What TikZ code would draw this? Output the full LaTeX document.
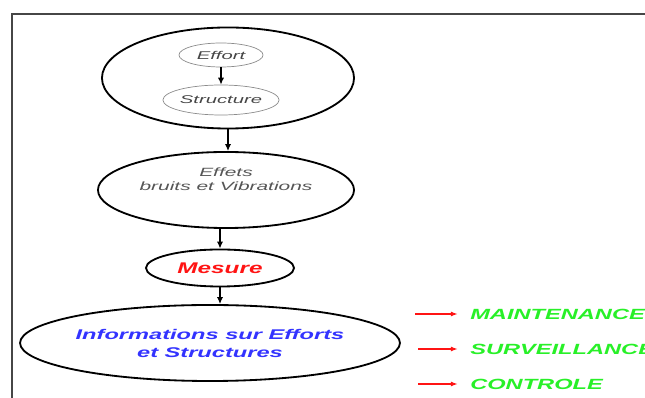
\documentclass[tikz,border=0pt]{standalone}
\usepackage{fontspec}
\setmainfont{Liberation Sans}
\usetikzlibrary{arrows.meta,positioning,shapes.geometric}
\definecolor{fsGrey} {RGB}{ 70, 70, 70}
\definecolor{fsText} {RGB}{ 85, 85, 85}
\definecolor{fsRed}  {RGB}{255, 20, 20}
\definecolor{fsBlue} {RGB}{ 51, 51,255}
\definecolor{fsGreen}{RGB}{ 40,240, 40}
% the lettering of the figure is stretched sideways
\newcommand{\wide}[2][1.6]{\scalebox{#1}[1]{#2}}

\begin{document}
\begin{tikzpicture}[
  x=0.025cm,y=-0.025cm,
  border/.style={draw=fsGrey,line width=1pt},
  bubble/.style={ellipse,draw=black,line width=1.3pt,inner sep=0pt},
  subbubble/.style={ellipse,draw=black!45,line width=0.5pt,inner sep=0pt,
                    font=\fontsize{8}{9}\selectfont\itshape,text=fsGrey},
  flow/.style={-{Latex[length=5pt,width=4.5pt]},line width=0.9pt},
  outarrow/.style={-{Latex[length=5pt,width=3.5pt]},draw=fsRed,
                   line width=1pt,shorten >=0.3cm},
  goal/.style={anchor=west,inner sep=0pt,text=fsGreen,
               font=\fontsize{10.5}{12}\selectfont\bfseries\itshape}
]
\useasboundingbox (0,0) rectangle (645,398);
\draw[border] (12,398) -- (12,14) -- (645,14);

% --- Effort on the structure
\node[bubble,minimum width=6.3cm,minimum height=2.525cm] (system) at (228,78) {};
\node[subbubble,minimum width=2.1cm,minimum height=0.6cm] (effort) at (221,55)
     {\wide[1.8]{Effort}};
\node[subbubble,minimum width=2.875cm,minimum height=0.75cm] (structure) at (221,100)
     {\wide[1.8]{Structure}};
\draw[flow] (effort) -- (structure);

% --- Effets
\node[bubble,minimum width=6.4cm,minimum height=1.9cm] (effets) at (226,190) {};
\node[text=fsText,font=\fontsize{8.5}{10}\selectfont\itshape,align=center,inner sep=0pt]
     (effetsTxt) at ([yshift=0.28cm]effets.center)
     {\wide[1.75]{Effets}\\\wide[1.75]{bruits et Vibrations}};

% --- Mesure
\node[bubble,minimum width=3.7cm,minimum height=0.925cm,text=fsRed,
      font=\fontsize{11}{13}\selectfont\bfseries\itshape] (mesure) at (220,268)
     {\wide[1.57]{Mesure}};

% --- Informations
\node[bubble,minimum width=9.1cm,minimum height=1.9cm,text=fsBlue,align=center,
      font=\fontsize{10}{12.8}\selectfont\bfseries\itshape] (info) at (210,343)
     {\wide[1.68]{Informations sur Efforts}\\\wide[1.68]{et Structures}};

\draw[flow] (system.south) -- (system.south |- effets.north);
\draw[flow] (mesure.north |- effets.south) -- (mesure.north);
\draw[flow] (mesure.south) -- (mesure.south |- info.north);

% --- Uses
\coordinate (mArrow) at (415,314);
\coordinate (sArrow) at (418,349);
\coordinate (cArrow) at (418,384);
\node[goal] (maintenance)  at (470,314) {\wide{MAINTENANCE}};
\node[goal] (surveillance) at (470,349) {\wide{SURVEILLANCE}};
\node[goal] (controle)     at (470,384) {\wide{CONTROLE}};
\draw[outarrow] (mArrow) -- (maintenance.west);
\draw[outarrow] (sArrow) -- (surveillance.west);
\draw[outarrow] (cArrow) -- (controle.west);
\end{tikzpicture}
\end{document}
